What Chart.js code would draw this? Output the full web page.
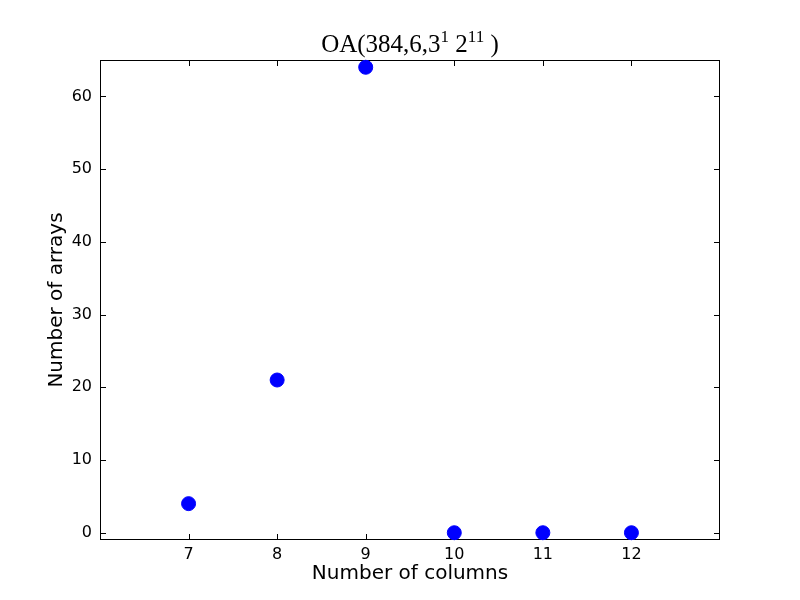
<!DOCTYPE html>
<html><head><meta charset="utf-8">
<script src="https://cdn.jsdelivr.net/npm/chart.js@4/dist/chart.umd.min.js"></script>
<style>html,body{margin:0;padding:0;background:#fff}#w{width:800px;height:600px}</style>
</head><body><div id="w"><canvas id="c" width="800" height="600"></canvas></div>
<script>
const columns = [7, 8, 9, 10, 11, 12];
const arrays = [4, 21, 64, 0, 0, 0];
const xTicks = [7, 8, 9, 10, 11, 12];
const yTicks = [0, 10, 20, 30, 40, 50, 60];
const titleParts = [["OA(384,6,3", false], ["1", true], [" 2", false], ["11", true], [" )", false]];

const points = columns.map((x, i) => ({x: x, y: arrays[i]}));

const framePlugin = {
  id: 'frame',
  beforeDatasetsDraw(chart) {
    const ctx = chart.ctx, a = chart.chartArea;
    const xs = chart.scales.x, ys = chart.scales.y;
    ctx.save();
    ctx.strokeStyle = '#000'; ctx.lineWidth = 1;
    ctx.strokeRect(a.left + 0.5, a.top + 0.5, a.right - a.left - 1, a.bottom - a.top - 1);
    const L = 6;
    ctx.beginPath();
    xTicks.forEach(v => {
      const p = Math.round(xs.getPixelForValue(v)) + 0.5;
      ctx.moveTo(p, a.bottom); ctx.lineTo(p, a.bottom - L);
      ctx.moveTo(p, a.top); ctx.lineTo(p, a.top + L);
    });
    yTicks.forEach(v => {
      const p = Math.round(ys.getPixelForValue(v)) + 0.5;
      ctx.moveTo(a.left, p); ctx.lineTo(a.left + L, p);
      ctx.moveTo(a.right, p); ctx.lineTo(a.right - L, p);
    });
    ctx.stroke();
    // title
    const big = '25px "Liberation Serif"', small = '17px "Liberation Serif"';
    let total = 0;
    titleParts.forEach(([t, sup]) => { ctx.font = sup ? small : big; total += ctx.measureText(t).width; });
    let x = (a.left + a.right) / 2 - total / 2;
    const base = 52;
    ctx.fillStyle = '#000'; ctx.textBaseline = 'alphabetic'; ctx.textAlign = 'left';
    titleParts.forEach(([t, sup]) => {
      ctx.font = sup ? small : big;
      ctx.fillText(t, x, sup ? base - 10 : base);
      x += ctx.measureText(t).width;
    });
    ctx.restore();
  }
};

new Chart(document.getElementById('c'), {
  type: 'scatter',
  data: { datasets: [{ data: points, backgroundColor: '#0000ff', borderColor: '#0000ff', pointRadius: 7, pointHoverRadius: 7, showLine: false, clip: false }] },
  options: {
    responsive: false, animation: false,
    layout: { padding: { top: 60, right: 80, left: 0, bottom: 0 } },
    plugins: { legend: { display: false }, tooltip: { enabled: false } },
    scales: {
      x: {
        type: 'linear', min: 6, max: 13,
        afterFit(s) { s.height = 60; },
        afterBuildTicks(s) { s.ticks = xTicks.map(v => ({value: v})); },
        grid: { display: false, drawTicks: false },
        border: { display: false },
        ticks: { color: '#000', font: { family: 'DejaVu Sans', size: 16 }, padding: 5, maxRotation: 0 },
        title: { display: true, text: 'Number of columns', color: '#000', font: { family: 'DejaVu Sans', size: 20 }, padding: { top: 0, bottom: 14 } }
      },
      y: {
        type: 'linear', min: -1, max: 65,
        afterFit(s) { s.width = 100; },
        afterBuildTicks(s) { s.ticks = yTicks.map(v => ({value: v})); },
        grid: { display: false, drawTicks: false },
        border: { display: false },
        ticks: { color: '#000', font: { family: 'DejaVu Sans', size: 16 }, padding: 8 },
        title: { display: true, text: 'Number of arrays', color: '#000', font: { family: 'DejaVu Sans', size: 20 }, padding: { top: 45, bottom: 0 } }
      }
    }
  },
  plugins: [framePlugin]
});
</script></body></html>
